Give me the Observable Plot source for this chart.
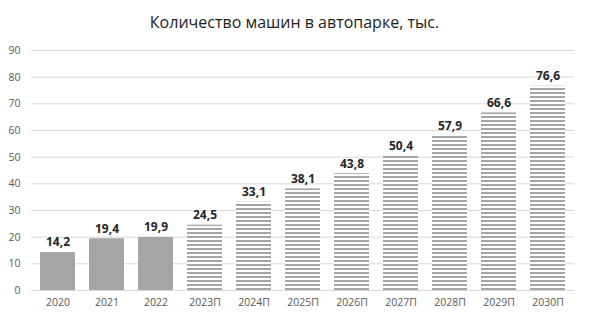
<!DOCTYPE html>
<html><head><meta charset="utf-8">
<script src="https://cdn.jsdelivr.net/npm/d3@7"></script>
<script src="https://cdn.jsdelivr.net/npm/@observablehq/plot@0.6"></script>
<style>
body{margin:0;background:#fff;font-family:"Open Sans",sans-serif;}
#title{height:40px;line-height:44px;text-align:center;font-size:16px;color:#222;padding-left:0px;font-family:"Open Sans",sans-serif;}
</style></head><body>
<div id="title">Количество машин в автопарке, тыс.</div>
<div id="chart"></div>
<script>
const years = ["2020","2021","2022","2023П","2024П","2025П","2026П","2027П","2028П","2029П","2030П"];
const values = [14.2,19.4,19.9,24.5,33.1,38.1,43.8,50.4,57.9,66.6,76.6];
const isForecast = [false,false,false,true,true,true,true,true,true,true,true];
const yTicks = [0,10,20,30,40,50,60,70,80,90];

const data = years.map((y,i)=>({year:y,value:values[i],forecast:isForecast[i],label:String(values[i]).replace(".",",")}));

const chart = Plot.plot({
  width:589, height:281,
  marginTop:10, marginBottom:31, marginLeft:31, marginRight:15,
  style:{fontFamily:"Open Sans, sans-serif", fontSize:"10.5px", color:"#595959", background:"#fff"},
  x:{domain:years, paddingInner:0.29, paddingOuter:0.15, label:null},
  y:{domain:[0,90], ticks:yTicks, label:null},
  marks:[
    Plot.gridY(yTicks,{stroke:"#d9d9d9", strokeOpacity:1}),
    Plot.barY(data,{x:"year", y:"value", fill:d=>d.forecast?"url(#stripes)":"#a5a5a5"}),
    Plot.text(data,{x:"year", y:"value", text:"label", dy:-10, fontWeight:"bold", fontSize:12, fill:"#262626"}),
    Plot.axisX({tickSize:0, tickPadding:8, fontSize:10.5}),
    Plot.axisY(yTicks,{tickSize:0, tickPadding:11, fontSize:10.5})
  ]
});
const ns="http://www.w3.org/2000/svg";
const defs=document.createElementNS(ns,"defs");
defs.innerHTML='<pattern id="stripes" patternUnits="userSpaceOnUse" width="8" height="4"><rect width="8" height="4" fill="#fff"/><rect width="8" height="2" fill="#a5a5a5"/></pattern>';
chart.insertBefore(defs, chart.firstChild);
document.getElementById("chart").appendChild(chart);
</script></body></html>
